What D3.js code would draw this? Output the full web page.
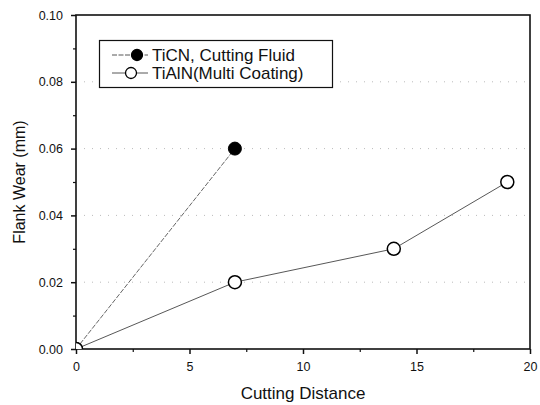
<!DOCTYPE html>
<html><head><meta charset="utf-8">
<script src="https://cdn.jsdelivr.net/npm/d3@7"></script>
<style>body{margin:0;background:#fff}svg{display:block}text{font-family:"Liberation Sans",Arial,Helvetica,sans-serif;fill:#111}</style>
</head><body>
<script>
const xTicks = [0, 5, 10, 15, 20];
const yTicks = [0.00, 0.02, 0.04, 0.06, 0.08, 0.10];
const ticnX = [0, 7];
const ticnY = [0, 0.06];
const tialnX = [0, 7, 14, 19];
const tialnY = [0, 0.02, 0.03, 0.05];
const seriesNames = ["TiCN, Cutting Fluid", "TiAlN(Multi Coating)"];

const W = 540, H = 405;
const m = {l:76, r:10, t:15, b:56};
const svg = d3.select("body").append("svg").attr("width", W).attr("height", H);
const x = d3.scaleLinear().domain([0, 20]).range([m.l, W - m.r]);
const y = d3.scaleLinear().domain([0, 0.10]).range([H - m.b, m.t]);

// faint dotted grid
const grid = svg.append("g").attr("stroke", "#bbb").attr("stroke-width", 1).attr("stroke-dasharray", "1,7");
yTicks.slice(1, -1).forEach(v => grid.append("line").attr("x1", x(0)).attr("x2", x(20)).attr("y1", y(v)).attr("y2", y(v)));

// frame
svg.append("rect").attr("x", x(0)).attr("y", y(0.10)).attr("width", x(20) - x(0)).attr("height", y(0) - y(0.10))
  .attr("fill", "none").attr("stroke", "#111").attr("stroke-width", 1.6);

// axes
const xAxis = d3.axisBottom(x).tickValues(xTicks).tickSize(5).tickPadding(8).tickFormat(d3.format("d"));
const gx = svg.append("g").attr("transform", `translate(0,${y(0)})`).call(xAxis);
const yAxis = d3.axisLeft(y).tickValues(yTicks).tickSize(5).tickPadding(8).tickFormat(d3.format(".2f"));
const gy = svg.append("g").attr("transform", `translate(${x(0)},0)`).call(yAxis);
[gx, gy].forEach(g => {
  g.select(".domain").remove();
  g.selectAll(".tick line").attr("stroke", "#111").attr("stroke-width", 1.5);
  g.selectAll(".tick text").attr("font-size", 12.5).attr("fill", "#111");
});
// minor ticks
const xMinor = d3.axisBottom(x).tickValues(xTicks.slice(0, -1).map(v => v + 2.5)).tickSize(3).tickFormat("");
svg.append("g").attr("transform", `translate(0,${y(0)})`).call(xMinor).call(g => { g.select(".domain").remove(); g.selectAll("line").attr("stroke", "#111").attr("stroke-width", 1.2); });
const yMinor = d3.axisLeft(y).tickValues(yTicks.slice(0, -1).map(v => v + 0.01)).tickSize(3).tickFormat("");
svg.append("g").attr("transform", `translate(${x(0)},0)`).call(yMinor).call(g => { g.select(".domain").remove(); g.selectAll("line").attr("stroke", "#111").attr("stroke-width", 1.2); });

// axis titles
svg.append("text").attr("x", (x(0) + x(20)) / 2).attr("y", 399).attr("text-anchor", "middle").attr("font-size", 17).text("Cutting Distance");
svg.append("text").attr("transform", `translate(25,${(y(0) + y(0.1)) / 2}) rotate(-90)`).attr("text-anchor", "middle").attr("font-size", 16).text("Flank Wear (mm)");

// clip
svg.append("clipPath").attr("id", "pc").append("rect").attr("x", x(0)).attr("y", y(0.10)).attr("width", x(20) - x(0)).attr("height", y(0) - y(0.10));
const plot = svg.append("g").attr("clip-path", "url(#pc)");

const line = d3.line().x(d => x(d[0])).y(d => y(d[1]));
const ticn = ticnX.map((v, i) => [v, ticnY[i]]);
const tialn = tialnX.map((v, i) => [v, tialnY[i]]);

plot.append("path").datum(ticn).attr("d", line).attr("fill", "none").attr("stroke", "#555").attr("stroke-width", 0.9).attr("stroke-dasharray", "5,1.5");
plot.append("path").datum(tialn).attr("d", line).attr("fill", "none").attr("stroke", "#444").attr("stroke-width", 0.9);
plot.selectAll(".m1").data(ticn).enter().append("circle").attr("cx", d => x(d[0])).attr("cy", d => y(d[1])).attr("r", 6.5).attr("fill", "#000").attr("stroke", "#000");
plot.selectAll(".m2").data(tialn).enter().append("circle").attr("cx", d => x(d[0])).attr("cy", d => y(d[1])).attr("r", 6.5).attr("fill", "#fff").attr("stroke", "#000").attr("stroke-width", 1.5);

// legend
const lg = svg.append("g");
lg.append("rect").attr("x", 99.5).attr("y", 40.5).attr("width", 233).attr("height", 47).attr("fill", "#fff").attr("stroke", "#111").attr("stroke-width", 1.2);
const rows = [{name: seriesNames[0], yy: 55, fill: "#000", dash: "5,1.5", cx: 137}, {name: seriesNames[1], yy: 73, fill: "#fff", dash: null, cx: 131}];
rows.forEach(r => {
  lg.append("line").attr("x1", 112).attr("x2", 148).attr("y1", r.yy).attr("y2", r.yy).attr("stroke", "#444").attr("stroke-width", 0.9).attr("stroke-dasharray", r.dash);
  lg.append("circle").attr("cx", r.cx).attr("cy", r.yy).attr("r", 5.5).attr("fill", r.fill).attr("stroke", "#000").attr("stroke-width", 1.3);
  lg.append("text").attr("x", 152).attr("y", r.yy + 6).attr("font-size", 17).text(r.name);
});
</script>
</body></html>
